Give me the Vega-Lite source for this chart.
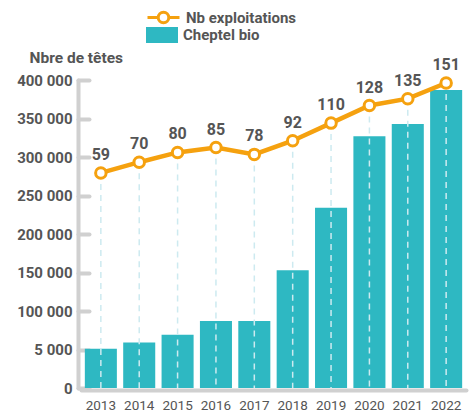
{
  "$schema": "https://vega.github.io/schema/vega-lite/v6.json",
  "width": 385,
  "height": 308,
  "autosize": "none",
  "padding": {"left": 81, "top": 80, "right": 6, "bottom": 26},
  "config": {"view": {"stroke": null}, "font": "Roboto, sans-serif"},
  "data": {"values": [
    {"annee": "2013", "cheptel": 51000, "nb": 59},
    {"annee": "2014", "cheptel": 59000, "nb": 70},
    {"annee": "2015", "cheptel": 69000, "nb": 80},
    {"annee": "2016", "cheptel": 87000, "nb": 85},
    {"annee": "2017", "cheptel": 87000, "nb": 78},
    {"annee": "2018", "cheptel": 153000, "nb": 92},
    {"annee": "2019", "cheptel": 234000, "nb": 110},
    {"annee": "2020", "cheptel": 327000, "nb": 128},
    {"annee": "2021", "cheptel": 343000, "nb": 135},
    {"annee": "2022", "cheptel": 387000, "nb": 151}
  ]},
  "encoding": {
    "x": {"field": "annee", "type": "ordinal",
      "scale": {"paddingInner": 0.165, "paddingOuter": 0.1},
      "axis": {"title": null, "labelAngle": 0, "ticks": false, "domainColor": "#d0d0d0", "domainWidth": 4, "domainCap": "round", "offset": 2, "labelPadding": 8, "labelFontSize": 13.5, "labelColor": "#555555"}}
  },
  "layer": [
    {
      "mark": {"type": "bar", "color": "#2EB8C2"},
      "encoding": {
        "y": {"field": "cheptel", "type": "quantitative", "scale": {"domain": [0, 400000], "nice": false},
          "axis": {"values": [0, 50000, 100000, 150000, 200000, 250000, 300000, 350000, 400000],
            "labelExpr": "datum.value == 0 ? '0' : datum.value == 50000 ? '5 000' : format(datum.value/1000, 'd') + ' 000'",
            "grid": false, "domainColor": "#d0d0d0", "domainWidth": 4, "domainCap": "round", "offset": 3,
            "tickColor": "#d0d0d0", "tickWidth": 4, "tickSize": -11, "tickCap": "round",
            "labelPadding": 17, "labelFontSize": 15, "labelFontWeight": "bold", "labelColor": "#555555",
            "title": "Nbre de têtes", "titleAngle": 0, "titleAlign": "left", "titleBaseline": "middle",
            "titleX": -49, "titleY": -23, "titleFontSize": 15.5, "titleFontWeight": "bold", "titleColor": "#555555"}},
        "fill": {"datum": "Cheptel bio", "scale": {"range": ["#2EB8C2"]},
          "legend": {"title": null, "orient": "none", "legendX": 65, "legendY": -61, "padding": 0,
            "symbolType": "M-1,-0.5H1V0.5H-1Z", "symbolSize": 1024, "symbolStrokeWidth": 0, "symbolOpacity": 1,
            "labelFontSize": 15, "labelFontWeight": "bold", "labelColor": "#555555", "labelOffset": 5}}
      }
    },
    {
      "layer": [
        {
          "mark": {"type": "rule", "color": "#cdeaf0", "strokeWidth": 1.5, "strokeDash": [6, 5]},
          "encoding": {
            "y": {"field": "nb", "type": "quantitative", "scale": {"domain": [-161, 154.1], "nice": false, "zero": false}, "axis": null},
            "y2": {"datum": -161}
          }
        },
        {
          "mark": {"type": "line", "strokeWidth": 4.5},
          "encoding": {
            "y": {"field": "nb", "type": "quantitative", "scale": {"domain": [-161, 154.1], "nice": false, "zero": false}, "axis": null},
            "stroke": {"datum": "Nb exploitations", "scale": {"range": ["#F5A10F"]},
              "legend": {"title": null, "orient": "none", "legendX": 65, "legendY": -80, "padding": 0,
                "symbolType": "M-1,0H-0.33M0.33,0H1M-0.33,0A0.33,0.33 0 1 0 0.33,0A0.33,0.33 0 1 0 -0.33,0",
                "symbolSize": 1024, "symbolStrokeWidth": 3, "symbolFillColor": "white",
                "labelFontSize": 15, "labelFontWeight": "bold", "labelColor": "#555555", "labelOffset": 5,
                "encode": {"symbols": {"update": {"fill": {"value": "white"}}}}}}
          }
        },
        {
          "mark": {"type": "point", "shape": "circle", "filled": true, "fill": "white", "stroke": "#F5A10F", "strokeWidth": 3, "size": 110, "opacity": 1},
          "encoding": {
            "y": {"field": "nb", "type": "quantitative", "scale": {"domain": [-161, 154.1], "nice": false, "zero": false}, "axis": null}
          }
        },
        {
          "mark": {"type": "text", "dy": -18, "fontSize": 16, "fontWeight": "bold", "color": "#555555"},
          "encoding": {
            "y": {"field": "nb", "type": "quantitative", "scale": {"domain": [-161, 154.1], "nice": false, "zero": false}, "axis": null},
            "text": {"field": "nb", "type": "quantitative"}
          }
        }
      ]
    }
  ],
  "resolve": {"scale": {"y": "independent"}}
}
